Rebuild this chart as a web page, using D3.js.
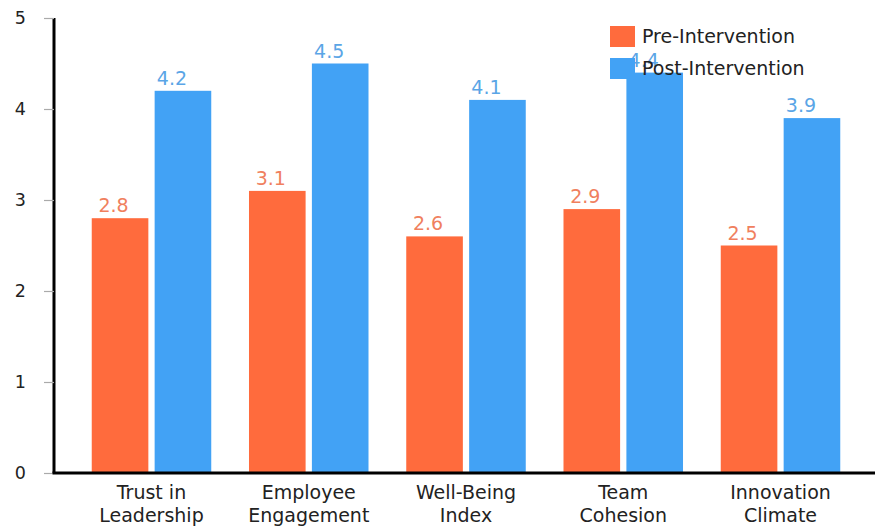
<!DOCTYPE html>
<html>
<head>
<meta charset="utf-8">
<script src="https://cdn.jsdelivr.net/npm/d3@7"></script>
<style>
  html, body { margin: 0; padding: 0; background: #fff; }
  svg { display: block; font-family: "DejaVu Sans", sans-serif; }
</style>
</head>
<body>
<svg id="chart" width="875" height="531"></svg>
<script>
const categories = [["Trust in", "Leadership"], ["Employee", "Engagement"], ["Well-Being", "Index"], ["Team", "Cohesion"], ["Innovation", "Climate"]];
const seriesNames = ["Pre-Intervention", "Post-Intervention"];
const preValues = [2.8, 3.1, 2.6, 2.9, 2.5];
const postValues = [4.2, 4.5, 4.1, 4.4, 3.9];
const yTicks = [0, 1, 2, 3, 4, 5];

const colors = { "Pre-Intervention": "#ff6b3d", "Post-Intervention": "#42a2f5" };
const labelColors = { "Pre-Intervention": "#f0805e", "Post-Intervention": "#5aa5e6" };
const labelDx = { "Pre-Intervention": -6.5, "Post-Intervention": -11 };

const catKeys = categories.map(c => c.join(" "));
const data = catKeys.map((k, i) => ({ key: k, lines: categories[i], values: { "Pre-Intervention": preValues[i], "Post-Intervention": postValues[i] } }));

const svg = d3.select("#chart");
const mLeft = 54, mRight = 878, mTop = 18, mBottom = 473;

const x0 = d3.scaleBand().domain(catKeys).range([mLeft, mRight]).padding(0.24);
const x1 = d3.scaleBand().domain(seriesNames).range([0, x0.bandwidth()]).paddingInner(0.1).paddingOuter(0);
const y = d3.scaleLinear().domain([0, 5]).range([mBottom, mTop]);

// bars
const groups = svg.append("g").selectAll("g").data(data).join("g")
  .attr("transform", d => `translate(${x0(d.key)},0)`);
groups.selectAll("rect").data(d => seriesNames.map(s => ({ s, v: d.values[s] }))).join("rect")
  .attr("x", d => x1(d.s))
  .attr("y", d => y(d.v))
  .attr("width", x1.bandwidth())
  .attr("height", d => y(0) - y(d.v))
  .attr("fill", d => colors[d.s]);

// y axis
const yAxis = svg.append("g").attr("transform", `translate(${mLeft},0)`)
  .call(d3.axisLeft(y).tickValues(yTicks).tickFormat(d3.format("d")).tickSize(10).tickPadding(18));
yAxis.select(".domain").attr("stroke", "#000").attr("stroke-width", 3).attr("d", `M0,${mTop}V${mBottom}`);
yAxis.selectAll(".tick line").attr("stroke", "#aaa").attr("stroke-width", 1.2);
yAxis.selectAll(".tick text").attr("font-size", 17.5).attr("fill", "#222").attr("font-family", "DejaVu Sans");

// x axis
const xAxis = svg.append("g").attr("transform", `translate(0,${mBottom})`)
  .call(d3.axisBottom(x0).tickSize(0).tickFormat(""));
xAxis.select(".domain").attr("stroke", "#000").attr("stroke-width", 3).attr("d", `M${mLeft - 1.5},0H${mRight}`);
xAxis.selectAll(".tick").each(function(d, i) {
  const t = d3.select(this).append("text").attr("fill", "#222").attr("font-size", 19)
    .attr("font-family", "DejaVu Sans").attr("text-anchor", "middle");
  data[i].lines.forEach((ln, j) => {
    t.append("tspan").attr("x", 0).attr("y", 26 + j * 23).text(ln);
  });
});

// legend
const legend = svg.append("g").attr("transform", "translate(610,26)");
const li = legend.selectAll("g").data(seriesNames).join("g")
  .attr("transform", (d, i) => `translate(0,${i * 32})`);
li.append("rect").attr("width", 25).attr("height", 21).attr("fill", d => colors[d]);

// value labels
groups.selectAll("text.val").data(d => seriesNames.map(s => ({ s, v: d.values[s] }))).join("text")
  .attr("class", "val")
  .attr("x", d => x1(d.s) + x1.bandwidth() / 2)
  .attr("dx", d => labelDx[d.s])
  .attr("y", d => y(d.v) - 6)
  .attr("text-anchor", "middle")
  .attr("font-size", 19)
  .attr("fill", d => labelColors[d.s])
  .text(d => d3.format(".1f")(d.v));

li.append("text").attr("x", 32).attr("y", 17).attr("font-size", 19).attr("fill", "#222")
  .text(d => d);
</script>
</body>
</html>
